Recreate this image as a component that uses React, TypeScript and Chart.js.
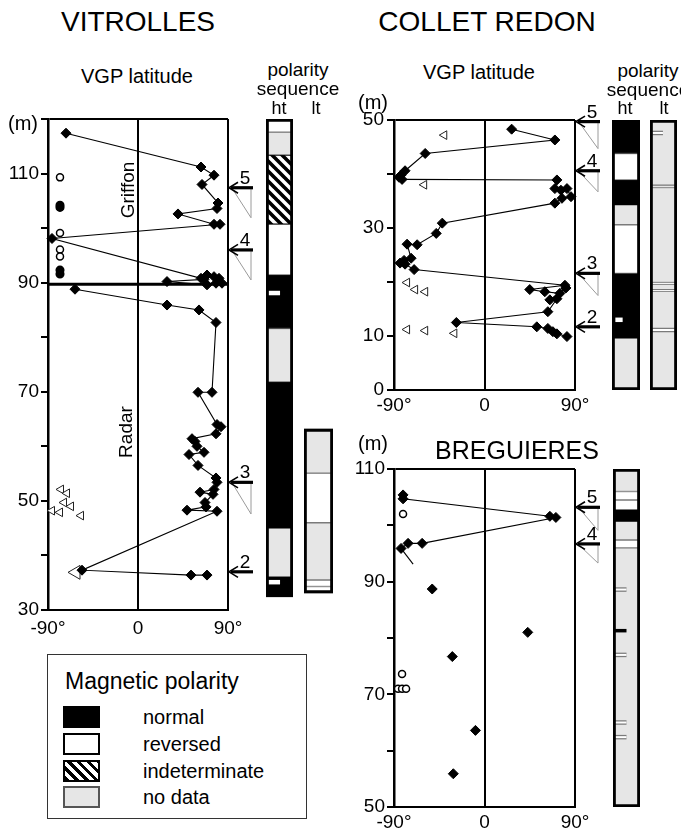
import React, { useEffect, useRef } from 'react';
import { Chart, registerables } from 'chart.js';

Chart.register(...registerables);

const FONT = '"Liberation Sans", Arial, Helvetica, sans-serif';
Chart.defaults.font.family = FONT;
Chart.defaults.color = '#000';

// ================= VITROLLES (VGP latitude °, height m) =================
const vitUpperPath: [number, number][] = [
  [-72, 117.4], [63, 111.2], [76, 109.7], [64, 108], [80, 104.6], [79, 103.6], [40, 102.6],
  [76, 100.7], [82, 100.7], [-86, 98.1], [63, 90.8], [69, 91.4], [76, 91.1], [81, 90.8],
  [84, 89.9], [78, 89.9], [69, 89.6], [29, 90.2], [66, 90.6],
];
const vitLowerPath: [number, number][] = [
  [-63, 88.8], [29, 85.9], [61, 85], [78, 82.7], [74, 69.9], [60, 69.9], [79, 64], [83, 63.6],
  [78, 62.3], [54, 61.4], [57, 60.9], [59, 60], [66, 58.9], [51, 58.5], [60, 56.5], [78, 54.2],
  [79, 53.4], [76, 52.1], [62, 51.6], [75, 51.2], [67, 49.7], [68, 48.9], [49, 48.3], [79, 48.1],
  [-56, 37.3], [53, 36.4], [69, 36.4],
];
const vitOpenCircles: [number, number][] = [[-78, 109.3], [-78, 99.1], [-78, 96.1], [-78, 94.8]];
const vitDarkCircles: [number, number][] = [[-78, 104.2], [-78, 103.8], [-78, 92.3], [-78, 91.6]];
const vitTriangles: [number, number][] = [
  [-77, 52.1], [-71, 51.4], [-74, 49.7], [-67, 49], [-57, 47.3], [-86, 48.2], [-78, 47.9],
];
const vitBigTriangles: [number, number][] = [[-62, 36.9]];
const vitBoundary: [number, number][] = [[-90, 89.7], [90, 89.7]];
const vitYLabels = [30, 50, 70, 90, 110];
const vitArrowLevels = [107.4, 96, 53.4, 37.0];
const vitArrowLabels = ['5', '4', '3', '2'];
const vitArrowWedges = [5.5, 5.5, 5.8, 0];
// polarity columns: boundaries (m, top to bottom) and kinds (N normal, R reversed, I indeterminate, X no data)
const vitHtBounds = [120, 117.6, 113.4, 100.7, 91.4, 81.6, 71.8, 45.0, 36.1, 32.4];
const vitHtKinds = ['R', 'X', 'I', 'R', 'N', 'X', 'N', 'X', 'N'];
const vitHtMarkLevels = [88.1, 35.1];
const vitHtMarkKinds = ['R', 'R'];
const vitLtBounds = [63.2, 55.1, 46.0, 35.5, 34.3, 33.1];
const vitLtKinds = ['X', 'R', 'X', 'R', 'R'];

// ================= COLLET REDON =================
const colPath: [number, number][] = [
  [27, 48.3], [70, 46.3], [-59, 43.8], [-79, 40.6], [-83, 39.8], [-85, 39.4], [-82, 39.0],
  [72, 38.9], [70, 37.3], [76, 37.0], [82, 37.3], [86, 35.8], [77, 35.5], [70, 34.6],
  [-42, 30.9], [-48, 29], [-67, 26.9], [-77, 27], [-73, 24.4], [-80, 24], [-84, 23.5],
  [-79, 23.3], [-70, 22.3], [80, 19.4], [45, 18.6], [60, 18.2], [75, 17.9], [81, 18.9],
  [65, 16.7], [72, 16.9], [63, 14.5], [-28, 12.5], [52, 11.7], [63, 11.4], [68, 10.8],
  [72, 10.4], [82, 9.9],
];
const colTriangles: [number, number][] = [
  [-40, 47.2], [-60, 38], [-77, 19.9], [-69, 18.6], [-59, 18.2], [-77, 11.2], [-59, 11], [-30, 10.5],
];
const colYLabels = [0, 10, 30, 50];
const colArrowLevels = [49.7, 40.6, 21.6, 11.7];
const colArrowLabels = ['5', '4', '3', '2'];
const colArrowWedges = [5, 3.9, 4.1, 0];
const colHtBounds = [50, 43.8, 38.9, 34.3, 30.6, 21.6, 9.6, 0];
const colHtKinds = ['N', 'R', 'N', 'X', 'R', 'N', 'X'];
const colHtMarkLevels = [13];
const colHtMarkKinds = ['R'];
const colLtBounds = [50, 37.95, 37.5, 19.9, 19.6, 18.6, 18.3, 11.4, 10.8, 0];
const colLtKinds = ['X', 'R', 'X', 'R', 'X', 'R', 'X', 'R', 'X'];
const colLtMarkLevels = [47.6];
const colLtMarkKinds = ['R'];

// ================= BREGUIERES =================
const bregPath: [number, number][] = [
  [-81, 105.4], [-81, 104.7], [65, 101.6], [71, 101.4], [-62, 96.8], [-76, 96.8], [-83, 95.9],
];
const bregTail: [number, number][] = [[-83, 95.9], [-71, 93.1]];
const bregIsolated: [number, number][] = [[-52, 88.7], [43, 81], [-32, 76.7], [-9, 63.6], [-31, 55.9]];
const bregCircles: [number, number][] = [[-81, 102], [-82, 73.6], [-86, 71], [-82, 71], [-78, 71]];
const bregYLabels = [50, 70, 90, 110];
const bregArrowLevels = [103.2, 96.7];
const bregArrowLabels = ['5', '4'];
const bregArrowWedges = [4.1, 3.4];
const bregHtBounds = [110, 106, 104.5, 102.8, 100.7, 97.4, 96.0, 50];
const bregHtKinds = ['X', 'R', 'R', 'N', 'X', 'R', 'X'];
const bregHtMarkLevels = [88.6, 81.3, 77.0, 65.0, 62.4];
const bregHtMarkKinds = ['R', 'N', 'R', 'R', 'R'];

// ================= helpers =================
type Box = { left: number; top: number; width: number; height: number };
type Plot = { left: number; right: number; top: number; bottom: number };

const toXY = (arr: [number, number][]) => arr.map(([x, y]) => ({ x, y }));

const diamondPath = (arr: [number, number][]) => ({
  data: toXY(arr), showLine: true, borderColor: '#000', borderWidth: 1.1,
  pointStyle: 'rectRot', pointRadius: 5, pointBackgroundColor: '#000', pointBorderColor: '#000',
  pointBorderWidth: 1, clip: false,
});
const diamonds = (arr: [number, number][]) => ({ ...diamondPath(arr), showLine: false });
const openCircles = (arr: [number, number][]) => ({
  data: toXY(arr), showLine: false, pointStyle: 'circle', pointRadius: 3.5,
  pointBackgroundColor: '#fff', pointBorderColor: '#000', pointBorderWidth: 1.5, clip: false,
});
const darkCircles = (arr: [number, number][]) => ({
  ...openCircles(arr), pointBackgroundColor: '#000', pointRadius: 3.8,
});
const triangles = (arr: [number, number][], r: number) => ({
  data: toXY(arr), showLine: false, pointStyle: 'triangle', rotation: -90, pointRadius: r,
  pointBackgroundColor: '#fff', pointBorderColor: '#222', pointBorderWidth: 1, clip: false,
});
const plainLine = (arr: [number, number][], w: number) => ({
  data: toXY(arr), showLine: true, borderColor: '#000', borderWidth: w, pointRadius: 0, clip: false,
});

function makeArrowPlugin(levels: number[], labels: string[], wedges: number[]) {
  return {
    id: 'polarityArrows',
    afterDraw(chart: any) {
      const ctx: CanvasRenderingContext2D = chart.ctx;
      const ys = chart.scales.y;
      const right = chart.chartArea.right;
      ctx.save();
      levels.forEach((lv, i) => {
        const py = ys.getPixelForValue(lv);
        if (wedges[i] > 0) {
          const pb = ys.getPixelForValue(lv - wedges[i]);
          ctx.strokeStyle = '#9a9a9a';
          ctx.lineWidth = 1;
          ctx.beginPath();
          ctx.moveTo(right + 5, py + 2);
          ctx.lineTo(right + 23, pb);
          ctx.moveTo(right + 23, py + 1);
          ctx.lineTo(right + 23, pb);
          ctx.stroke();
        }
        ctx.strokeStyle = '#000';
        ctx.lineWidth = 3.2;
        ctx.beginPath();
        ctx.moveTo(right + 3, py);
        ctx.lineTo(right + 25, py);
        ctx.stroke();
        ctx.lineWidth = 1.6;
        ctx.beginPath();
        ctx.moveTo(right + 10, py - 5.5);
        ctx.lineTo(right + 1, py);
        ctx.lineTo(right + 10, py + 5.5);
        ctx.stroke();
        ctx.fillStyle = '#000';
        ctx.font = `19px ${FONT}`;
        ctx.textAlign = 'center';
        ctx.textBaseline = 'alphabetic';
        ctx.fillText(labels[i], right + 17, py - 4);
      });
      ctx.restore();
    },
  };
}

function vgpConfig(p: {
  canvas: Box; plot: Plot; yMin: number; yMax: number; yLabels: number[]; datasets: any[];
  levels: number[]; labels: string[]; wedges: number[]; xPad: number; yPad: number;
}) {
  const { canvas, plot } = p;
  return {
    type: 'scatter',
    data: { datasets: p.datasets },
    plugins: [makeArrowPlugin(p.levels, p.labels, p.wedges)],
    options: {
      animation: false, responsive: false, maintainAspectRatio: false, events: [],
      layout: { padding: { top: plot.top - canvas.top, right: canvas.left + canvas.width - plot.right, left: 0, bottom: 0 } },
      plugins: { legend: { display: false }, tooltip: { enabled: false } },
      scales: {
        x: {
          type: 'linear', min: -90, max: 90,
          afterFit: (s: any) => { s.height = canvas.top + canvas.height - plot.bottom; },
          ticks: {
            stepSize: 90, autoSkip: false, maxRotation: 0, padding: p.xPad,
            font: { size: 19 }, color: '#000',
            callback: (v: any) => (Number(v) === 0 ? '0' : `${v}°`),
          },
          grid: { drawTicks: false, color: '#000', lineWidth: 2 },
          border: { display: true, color: '#000', width: 2 },
        },
        y: {
          type: 'linear', min: p.yMin, max: p.yMax,
          afterFit: (s: any) => { s.width = plot.left - canvas.left; },
          ticks: {
            stepSize: 10, autoSkip: false, padding: p.yPad, font: { size: 19 }, color: '#000',
            callback: (v: any) => (p.yLabels.includes(Math.round(Number(v))) ? String(Math.round(Number(v))) : ''),
          },
          grid: {
            drawTicks: true, tickLength: 7, tickColor: '#000', tickWidth: 2, lineWidth: 2,
            color: (c: any) => (c.tick && c.tick.value === p.yMax ? '#000' : 'rgba(0,0,0,0)'),
          },
          border: { display: true, color: '#000', width: 2.5 },
        },
      },
    },
  };
}

function makeHatch(): CanvasPattern | string {
  const c = document.createElement('canvas');
  c.width = 10; c.height = 10;
  const g = c.getContext('2d');
  if (!g) return '#888';
  g.fillStyle = '#fff';
  g.fillRect(0, 0, 10, 10);
  g.strokeStyle = '#000';
  g.lineWidth = 3.6;
  g.beginPath();
  for (const k of [-10, 0, 10]) { g.moveTo(k - 1, -1); g.lineTo(k + 11, 11); }
  g.stroke();
  return g.createPattern(c, 'repeat') || '#888';
}

function kindStyle(k: string, pattern: any) {
  if (k === 'N') return { bg: '#000', border: '#000' };
  if (k === 'R') return { bg: '#fff', border: '#7a7a7a' };
  if (k === 'I') return { bg: pattern, border: '#000' };
  return { bg: '#e6e6e6', border: '#7a7a7a' };
}

function columnConfig(p: {
  yMin: number; yMax: number; bounds: number[]; kinds: string[];
  markLevels?: number[]; markKinds?: string[]; markFrom?: number; markTo?: number;
}) {
  const pattern = makeHatch();
  const barBase = { type: 'bar', grouped: false, barPercentage: 1, categoryPercentage: 1, borderSkipped: false };
  const segments = p.bounds.slice(0, -1).map((top, i) => {
    const st = kindStyle(p.kinds[i], pattern);
    return { ...barBase, data: [[p.bounds[i + 1], top]], backgroundColor: st.bg, borderColor: st.border, borderWidth: 1 };
  });
  const outline = {
    ...barBase, data: [[p.bounds[p.bounds.length - 1], p.bounds[0]]],
    backgroundColor: 'rgba(0,0,0,0)', borderColor: '#000', borderWidth: 2.5,
  };
  const kindAt = (lv: number) => {
    for (let i = 0; i < p.bounds.length - 1; i++) if (lv <= p.bounds[i] && lv >= p.bounds[i + 1]) return p.kinds[i];
    return 'X';
  };
  const marks: any[] = [];
  (p.markLevels || []).forEach((lv, i) => {
    const k = (p.markKinds || [])[i];
    const seg = [{ x: p.markFrom ?? 0.06, y: lv }, { x: p.markTo ?? 0.5, y: lv }];
    const base = { type: 'line', xAxisID: 'x2', data: seg, pointRadius: 0, clip: false, borderCapStyle: 'butt' };
    if (k === 'N') {
      marks.push({ ...base, borderColor: '#000', borderWidth: 3.5 });
    } else if (kindAt(lv) === 'N') {
      marks.push({ ...base, borderColor: '#fff', borderWidth: 4.5 });
    } else {
      marks.push({ ...base, borderColor: '#fff', borderWidth: 2 });
      marks.push({ ...base, borderColor: '#7a7a7a', borderWidth: 4.5 });
    }
  });
  return {
    type: 'bar',
    data: { labels: ['c'], datasets: [outline, ...marks, ...segments] },
    options: {
      animation: false, responsive: false, maintainAspectRatio: false, events: [],
      layout: { padding: 0 },
      plugins: { legend: { display: false }, tooltip: { enabled: false } },
      scales: {
        x: { display: false },
        x2: { type: 'linear', display: false, min: 0, max: 1, offset: false, grid: { offset: false } },
        y: { display: false, min: p.yMin, max: p.yMax },
      },
    },
  };
}

function ChartCanvas({ box, build }: { box: Box; build: () => any }) {
  const ref = useRef<HTMLCanvasElement>(null);
  useEffect(() => {
    const c = ref.current;
    if (!c) return;
    const chart = new Chart(c, build());
    return () => chart.destroy();
  }, []);
  return (
    <canvas
      ref={ref}
      width={box.width}
      height={box.height}
      style={{ position: 'absolute', left: box.left, top: box.top, width: box.width, height: box.height }}
    />
  );
}

function Txt({ x, y, size, children, rotate }: { x: number; y: number; size: number; children: React.ReactNode; rotate?: number }) {
  return (
    <div
      style={{
        position: 'absolute', left: x, top: y, fontSize: size, lineHeight: 1, whiteSpace: 'nowrap',
        transform: `translate(-50%, -50%)${rotate ? ` rotate(${rotate}deg)` : ''}`, color: '#000',
      }}
    >
      {children}
    </div>
  );
}

const vitCanvas: Box = { left: 0, top: 95, width: 262, height: 550 };
const vitPlot: Plot = { left: 48, right: 228, top: 119, bottom: 610 };
const colCanvas: Box = { left: 345, top: 95, width: 262, height: 330 };
const colPlot: Plot = { left: 394, right: 575, top: 120, bottom: 390 };
const bregCanvas: Box = { left: 345, top: 440, width: 262, height: 396 };
const bregPlot: Plot = { left: 394, right: 575, top: 469, bottom: 807 };

const legendItems = [
  { label: 'normal', bg: '#000', border: '#000' },
  { label: 'reversed', bg: '#fff', border: '#000' },
  { label: 'indeterminate', bg: 'repeating-linear-gradient(45deg, #000 0px, #000 3px, #fff 3px, #fff 7px)', border: '#000' },
  { label: 'no data', bg: '#e6e6e6', border: '#555' },
];

export default function App() {
  return (
    <div style={{ position: 'absolute', left: 0, top: 0, width: 681, height: 836, background: '#fff', fontFamily: FONT, overflow: 'hidden' }}>
      <ChartCanvas
        box={vitCanvas}
        build={() => vgpConfig({
          canvas: vitCanvas, plot: vitPlot, yMin: 30, yMax: 120, yLabels: vitYLabels, xPad: 7, yPad: 2,
          levels: vitArrowLevels, labels: vitArrowLabels, wedges: vitArrowWedges,
          datasets: [
            diamondPath(vitUpperPath), diamondPath(vitLowerPath), openCircles(vitOpenCircles),
            darkCircles(vitDarkCircles), triangles(vitTriangles, 5), triangles(vitBigTriangles, 8),
            plainLine(vitBoundary, 3),
          ],
        })}
      />
      <ChartCanvas box={{ left: 266, top: 119, width: 27, height: 491 }}
        build={() => columnConfig({ yMin: 30, yMax: 120, bounds: vitHtBounds, kinds: vitHtKinds, markLevels: vitHtMarkLevels, markKinds: vitHtMarkKinds, markFrom: 0.08, markTo: 0.52 })} />
      <ChartCanvas box={{ left: 304, top: 119, width: 29, height: 491 }}
        build={() => columnConfig({ yMin: 30, yMax: 120, bounds: vitLtBounds, kinds: vitLtKinds })} />

      <ChartCanvas
        box={colCanvas}
        build={() => vgpConfig({
          canvas: colCanvas, plot: colPlot, yMin: 0, yMax: 50, yLabels: colYLabels, xPad: 4, yPad: 3,
          levels: colArrowLevels, labels: colArrowLabels, wedges: colArrowWedges,
          datasets: [diamondPath(colPath), triangles(colTriangles, 5)],
        })}
      />
      <ChartCanvas box={{ left: 612, top: 120, width: 28, height: 270 }}
        build={() => columnConfig({ yMin: 0, yMax: 50, bounds: colHtBounds, kinds: colHtKinds, markLevels: colHtMarkLevels, markKinds: colHtMarkKinds, markFrom: 0.12, markTo: 0.38 })} />
      <ChartCanvas box={{ left: 650, top: 120, width: 27, height: 270 }}
        build={() => columnConfig({ yMin: 0, yMax: 50, bounds: colLtBounds, kinds: colLtKinds, markLevels: colLtMarkLevels, markKinds: colLtMarkKinds, markFrom: 0.08, markTo: 0.48 })} />

      <ChartCanvas
        box={bregCanvas}
        build={() => vgpConfig({
          canvas: bregCanvas, plot: bregPlot, yMin: 50, yMax: 110, yLabels: bregYLabels, xPad: 4, yPad: 2,
          levels: bregArrowLevels, labels: bregArrowLabels, wedges: bregArrowWedges,
          datasets: [diamondPath(bregPath), diamonds(bregIsolated), openCircles(bregCircles), plainLine(bregTail, 1.1)],
        })}
      />
      <ChartCanvas box={{ left: 613, top: 469, width: 27, height: 338 }}
        build={() => columnConfig({ yMin: 50, yMax: 110, bounds: bregHtBounds, kinds: bregHtKinds, markLevels: bregHtMarkLevels, markKinds: bregHtMarkKinds, markFrom: 0.06, markTo: 0.5 })} />

      {/* texts */}
      <Txt x={138} y={22} size={28}>VITROLLES</Txt>
      <Txt x={137} y={76} size={20}>VGP latitude</Txt>
      <Txt x={298} y={69} size={19}>polarity</Txt>
      <Txt x={298} y={88} size={19}>sequence</Txt>
      <Txt x={279} y={108} size={18}>ht</Txt>
      <Txt x={316} y={108} size={18}>lt</Txt>
      <Txt x={23} y={123} size={20}>(m)</Txt>
      <Txt x={127} y={190} size={19} rotate={-90}>Griffon</Txt>
      <Txt x={125} y={432} size={19} rotate={-90}>Radar</Txt>

      <Txt x={487} y={22} size={28}>COLLET REDON</Txt>
      <Txt x={479} y={72} size={20}>VGP latitude</Txt>
      <Txt x={648} y={70} size={19}>polarity</Txt>
      <Txt x={648} y={89} size={19}>sequence</Txt>
      <Txt x={625} y={108} size={18}>ht</Txt>
      <Txt x={664} y={108} size={18}>lt</Txt>
      <Txt x={373} y={102} size={20}>(m)</Txt>

      <Txt x={517} y={450} size={25}>BREGUIERES</Txt>
      <Txt x={373} y={443} size={20}>(m)</Txt>

      {/* legend */}
      <div style={{ position: 'absolute', left: 47, top: 654, width: 258, height: 163, border: '1.5px solid #333' }}>
        <div style={{ position: 'absolute', left: 17, top: 15, fontSize: 23, lineHeight: 1, whiteSpace: 'nowrap' }}>Magnetic polarity</div>
        {legendItems.map((it, i) => (
          <React.Fragment key={it.label}>
            <div style={{
              position: 'absolute', left: 15, top: 51 + i * 26.8, width: 33, height: 18,
              background: it.bg, border: `2px solid ${it.border}`,
            }} />
            <div style={{ position: 'absolute', left: 95, top: 51 + i * 26.8, height: 22, lineHeight: '22px', fontSize: 20, whiteSpace: 'nowrap' }}>
              {it.label}
            </div>
          </React.Fragment>
        ))}
      </div>
    </div>
  );
}
